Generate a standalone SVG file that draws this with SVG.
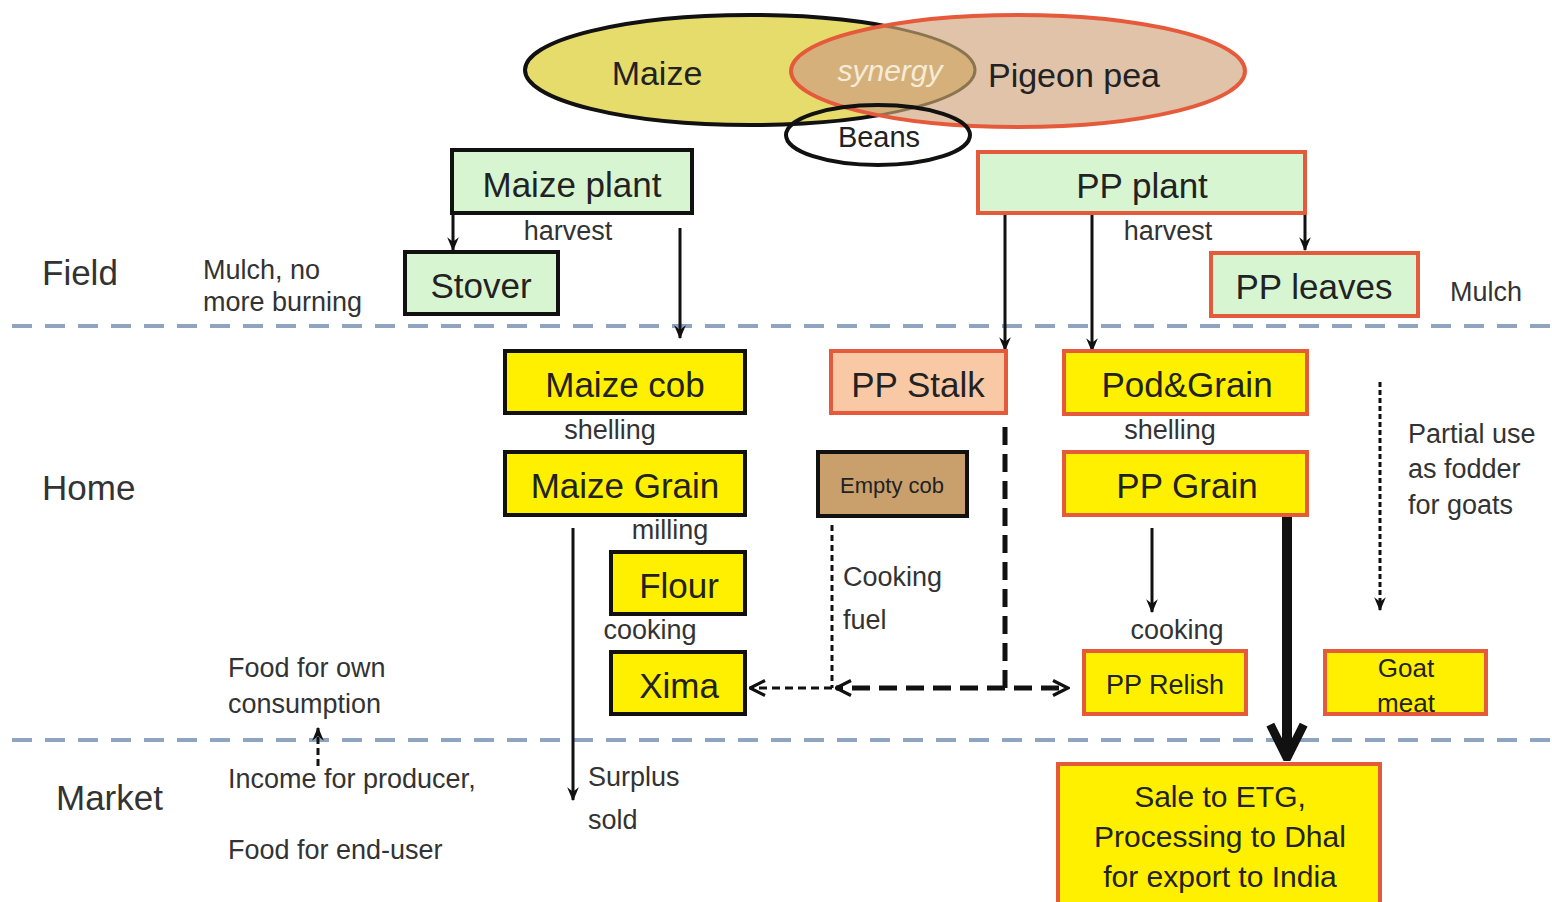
<svg xmlns="http://www.w3.org/2000/svg" width="1552" height="902" viewBox="0 0 1552 902">
<style>
text{font-family:"Liberation Sans",Arial,sans-serif;fill:#222;dominant-baseline:central}
.big{font-size:35px;text-anchor:middle}
.lab{font-size:27px;fill:#333}
.mid{text-anchor:middle}
.sect{font-size:35px;fill:#333}
.g{fill:#d8f5d2;stroke:#111;stroke-width:4}
.gr{fill:#d8f5d2;stroke:#e65a3c;stroke-width:4}
.y{fill:#fff000;stroke:#111;stroke-width:4}
.yr{fill:#fff000;stroke:#e65a3c;stroke-width:4}
.sep{stroke:#8fa4bf;stroke-width:4;stroke-dasharray:20 13;fill:none}
.ln{stroke:#111;stroke-width:3;fill:none}
</style>
<defs>
<marker id="arr" viewBox="0 0 12 12" refX="11" refY="6" markerWidth="14" markerHeight="14" markerUnits="userSpaceOnUse" orient="auto">
<path d="M0,1 L12,6 L0,11 L4,6 Z" fill="#111"/>
</marker>
<marker id="chev" viewBox="0 0 12 12" refX="11" refY="6" markerWidth="18" markerHeight="20" markerUnits="userSpaceOnUse" orient="auto">
<path d="M1,1 L11,6 L1,11" fill="none" stroke="#111" stroke-width="2.2"/>
</marker>
<marker id="big" viewBox="0 0 12 12" refX="11" refY="6" markerWidth="40" markerHeight="46" markerUnits="userSpaceOnUse" orient="auto">
<path d="M1,1 L11,6 L1,11" fill="none" stroke="#111" stroke-width="2.6"/>
</marker>
<clipPath id="ppclip"><ellipse cx="1018" cy="71" rx="227" ry="56"/></clipPath>
</defs>
<rect width="1552" height="902" fill="#fff"/>

<g id="separators">
<line class="sep" x1="12" y1="326" x2="1552" y2="326"/>
<line class="sep" x1="12" y1="740" x2="1552" y2="740"/>
</g>

<g id="venn">
<ellipse id="maize-ellipse" cx="750" cy="70" rx="225" ry="55" fill="#e6dc6c" stroke="#111" stroke-width="4"/>
<ellipse cx="1018" cy="71" rx="227" ry="56" fill="#e0c3a9"/>
<ellipse cx="750" cy="70" rx="225" ry="55" fill="#d6b07a" stroke="#8a7550" stroke-width="3" clip-path="url(#ppclip)"/>
<ellipse cx="1018" cy="71" rx="227" ry="56" fill="none" stroke="#e65a3c" stroke-width="4"/>
<text x="657" y="73" style="font-size:34px" class="mid">Maize</text>
<text x="890" y="70" style="font-size:30px;font-style:italic;fill:#f4ecd8" class="mid">synergy</text>
<text x="1074" y="75" style="font-size:34px" class="mid">Pigeon pea</text>
</g>
<g id="beans">
<ellipse cx="878" cy="135" rx="92" ry="30" fill="none" stroke="#111" stroke-width="4"/>
<text x="879" y="137" style="font-size:29px" class="mid">Beans</text>
</g>

<g id="labels">
<text class="sect" x="42" y="272">Field</text>
<text class="sect" x="42" y="487">Home</text>
<text class="sect" x="56" y="797">Market</text>
<text class="lab" x="203" y="270">Mulch, no</text>
<text class="lab" x="203" y="302">more burning</text>
<text class="lab mid" x="568" y="231">harvest</text>
<text class="lab mid" x="1168" y="231">harvest</text>
<text class="lab" x="1450" y="292">Mulch</text>
<text class="lab mid" x="610" y="430">shelling</text>
<text class="lab mid" x="670" y="530">milling</text>
<text class="lab mid" x="650" y="630">cooking</text>
<text class="lab mid" x="1170" y="430">shelling</text>
<text class="lab mid" x="1177" y="630">cooking</text>
<text class="lab" x="843" y="577">Cooking</text>
<text class="lab" x="843" y="620">fuel</text>
<text class="lab" x="1408" y="434">Partial use</text>
<text class="lab" x="1408" y="469">as fodder</text>
<text class="lab" x="1408" y="505">for goats</text>
<text class="lab" x="228" y="668">Food for own</text>
<text class="lab" x="228" y="704">consumption</text>
<text class="lab" x="228" y="779">Income for producer,</text>
<text class="lab" x="228" y="850">Food for end-user</text>
<text class="lab" x="588" y="777">Surplus</text>
<text class="lab" x="588" y="820">sold</text>
</g>

<g id="connectors">
<path class="ln" d="M453,213 V250" marker-end="url(#arr)"/>
<path class="ln" d="M680,228 V338" marker-end="url(#arr)"/>
<path class="ln" d="M1005,213 V350" marker-end="url(#arr)"/>
<path class="ln" d="M1092,213 V351" marker-end="url(#arr)"/>
<path class="ln" d="M1305,213 V250" marker-end="url(#arr)"/>
<path class="ln" d="M573,528 V800" marker-end="url(#arr)"/>
<path class="ln" d="M1152,528 V612" marker-end="url(#arr)"/>
<path d="M832,525 V688" fill="none" stroke="#111" stroke-width="3" stroke-dasharray="6 4"/>
<path d="M1005,427 V688 H1068" fill="none" stroke="#111" stroke-width="5" stroke-dasharray="18 9" marker-end="url(#chev)"/>
<path d="M1005,688 H836" fill="none" stroke="#111" stroke-width="5" stroke-dasharray="18 9" marker-end="url(#chev)"/>
<path d="M832,688 H750" fill="none" stroke="#111" stroke-width="3" stroke-dasharray="8 5" marker-end="url(#chev)"/>
<path d="M1380,382 V610" fill="none" stroke="#111" stroke-width="3" stroke-dasharray="5 3" marker-end="url(#arr)"/>
<path d="M318,766 V728" fill="none" stroke="#111" stroke-width="3" stroke-dasharray="7 4" marker-end="url(#arr)"/>
<path d="M1287,515 V758" fill="none" stroke="#111" stroke-width="10" marker-end="url(#big)"/>
</g>

<g id="maize-plant"><rect class="g" x="452" y="150" width="240" height="63"/><text class="big" x="572" y="184">Maize plant</text></g>
<g id="stover"><rect class="g" x="405" y="252" width="153" height="62"/><text class="big" x="481" y="285">Stover</text></g>
<g id="pp-plant"><rect class="gr" x="978" y="152" width="327" height="61"/><text class="big" x="1142" y="185">PP plant</text></g>
<g id="pp-leaves"><rect class="gr" x="1211" y="253" width="207" height="63"/><text class="big" x="1314" y="286">PP leaves</text></g>

<g id="maize-cob"><rect class="y" x="505" y="351" width="240" height="62"/><text class="big" x="625" y="384">Maize cob</text></g>
<g id="maize-grain"><rect class="y" x="505" y="452" width="240" height="63"/><text class="big" x="625" y="485">Maize Grain</text></g>
<g id="flour"><rect class="y" x="611" y="552" width="134" height="62"/><text class="big" x="679" y="585">Flour</text></g>
<g id="xima"><rect class="y" x="611" y="652" width="134" height="62"/><text class="big" x="679" y="685">Xima</text></g>
<g id="pp-stalk"><rect x="831" y="351" width="175" height="62" fill="#f9c9a6" stroke="#e65a3c" stroke-width="4"/><text class="big" x="918" y="384">PP Stalk</text></g>
<g id="empty-cob"><rect x="818" y="452" width="149" height="64" fill="#c9a06c" stroke="#111" stroke-width="4"/><text x="892" y="485" class="mid" style="font-size:22px">Empty cob</text></g>
<g id="pod-grain"><rect class="yr" x="1064" y="351" width="243" height="63"/><text class="big" x="1187" y="384">Pod&amp;Grain</text></g>
<g id="pp-grain"><rect class="yr" x="1064" y="452" width="243" height="63"/><text class="big" x="1187" y="485">PP Grain</text></g>
<g id="pp-relish"><rect class="yr" x="1084" y="651" width="162" height="63"/><text x="1165" y="685" class="mid" style="font-size:27px">PP Relish</text></g>
<g id="goat-meat"><rect class="yr" x="1325" y="651" width="161" height="63"/><text x="1406" y="668" class="mid" style="font-size:26px">Goat</text><text x="1406" y="703" class="mid" style="font-size:26px">meat</text></g>
<g id="sale"><rect class="yr" x="1058" y="764" width="322" height="145" stroke-width="5"/>
<text x="1220" y="796" class="mid" style="font-size:30px">Sale to ETG,</text>
<text x="1220" y="836" class="mid" style="font-size:30px">Processing to Dhal</text>
<text x="1220" y="876" class="mid" style="font-size:30px">for export to India</text></g>
</svg>
